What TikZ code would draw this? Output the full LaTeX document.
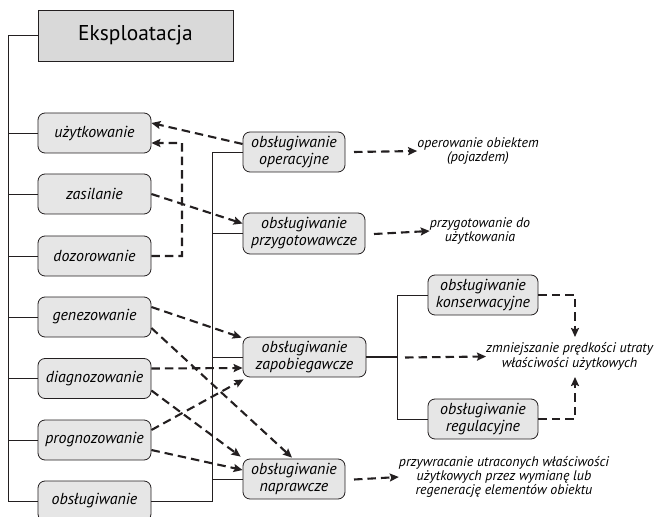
\documentclass[tikz,border=0pt]{standalone}
\usepackage{fontspec}
\setmainfont{PT Sans}
\usetikzlibrary{arrows.meta}
\definecolor{boxfill}{HTML}{E6E6E6}
\definecolor{headfill}{HTML}{D9D9D9}
\definecolor{linec}{HTML}{231F20}
\tikzset{
  headbox/.style={draw=linec, line width=0.8bp, fill=headfill, minimum width=195bp, minimum height=51bp, inner sep=0pt, font=\fontsize{21.5}{24}\selectfont},
  actbox/.style={draw=linec, line width=0.8bp, fill=boxfill, rounded corners=7bp, minimum height=40bp, inner sep=0pt, align=center, font=\fontsize{16}{17}\selectfont\itshape},
  desc/.style={align=center, inner sep=0pt, font=\fontsize{14}{14.5}\selectfont\itshape},
  tree/.style={draw=linec, line width=0.8bp},
  dasharrow/.style={draw=linec, line width=2.1bp, dash pattern=on 8.5bp off 5bp, -{Stealth[length=9bp,width=8bp,inset=1.5bp]}},
}
\begin{document}
\begin{tikzpicture}[x=1bp,y=-1bp]
\useasboundingbox (0,0) rectangle (660,517);
% head
\node[headbox] (eks) at (135.5,35.5) {Eksploatacja};
% left column
\node[actbox, minimum width=113bp] (uzyt) at (94.5,133) {użytkowanie};
\node[actbox, minimum width=113bp] (zasil) at (94.5,194) {zasilanie};
\node[actbox, minimum width=113bp] (dozor) at (94.5,256) {dozorowanie};
\node[actbox, minimum width=113bp] (genez) at (94.5,317) {genezowanie};
\node[actbox, minimum width=113bp] (diagn) at (94.5,378.5) {diagnozowanie};
\node[actbox, minimum width=113bp] (progn) at (94.5,440) {prognozowanie};
\node[actbox, minimum width=113bp] (obslu) at (94.5,501) {obsługiwanie};
% middle column
\node[actbox, minimum width=102bp] (oper) at (294,152) {obsługiwanie\\operacyjne};
\node[actbox, minimum width=122bp, minimum height=41bp] (przyg) at (304,233.5) {obsługiwanie\\przygotowawcze};
\node[actbox, minimum width=123bp] (zapob) at (304.5,357) {obsługiwanie\\zapobiegawcze};
\node[actbox, minimum width=102bp] (napr) at (294,479) {obsługiwanie\\naprawcze};
% right column
\node[actbox, minimum width=110bp] (konse) at (483,295) {obsługiwanie\\konserwacyjne};
\node[actbox, minimum width=110bp] (regul) at (483,419) {obsługiwanie\\regulacyjne};
% descriptions
\node[desc] (t1) at (478,151) {operowanie obiektem\\(pojazdem)};
\node[desc] (t2) at (480,231) {przygotowanie do\\użytkowania};
\node[desc, anchor=west] (t3) at (486,356.5) {zmniejszanie prędkości utraty\\właściwości użytkowych};
\node[desc] (t4) at (504,477) {przywracanie utraconych właściwości\\użytkowych przez wymianę lub\\regenerację elementów obiektu};
% coordinates
\coordinate (lt) at (8,35.5);
\coordinate (lb) at (8,501);
\coordinate (rt) at (212,152);
\coordinate (rb) at (212,501);
\coordinate (zj) at (397,357);
\coordinate (zt) at (397,295);
\coordinate (zb) at (397,419);
\coordinate (za) at (405,357.5);
\coordinate (dz) at (182,256);
\coordinate (dzu) at (182,143);
\coordinate (kc) at (575,295);
\coordinate (kt) at (575,337);
\coordinate (rc) at (575,419);
\coordinate (rtp) at (575,377);
\coordinate (o1) at (354,152);
\coordinate (o2) at (374,234);
\coordinate (o3) at (354,479.5);
% left tree
\draw[tree] (eks.west) -- (lt) -- (lb) -- (obslu.west);
\foreach \n in {uzyt,zasil,dozor,genez,diagn,progn}{
  \draw[tree] (lt |- \n.west) -- (\n.west);
}
% right tree
\draw[tree] (obslu.east) -- (rb) -- (rt) -- (oper.west);
\foreach \n in {przyg,zapob,napr}{
  \draw[tree] (rt |- \n.west) -- (\n.west);
}
% zapobiegawcze branch
\draw[draw=linec, line width=1.4bp] (zapob.east) -- (zj);
\draw[tree] (konse.west) -- (zt) -- (zb) -- (regul.west);
% dashed arrows right
\draw[dasharrow] (za) -- (t3.west);
\draw[dasharrow] (konse.east) -- (kc) -- (kt);
\draw[dasharrow] (regul.east) -- (rc) -- (rtp);
\draw[dasharrow] (o1) -- (t1.west);
\draw[dasharrow] (o2) -- (t2.west);
\draw[dasharrow] (o3) -- (t4.west);
% dashed arrows left
\draw[dasharrow] ([yshift=8bp]oper.west) -- ([yshift=10bp]uzyt.east);
\draw[dasharrow] (dozor.east) -- (dz) -- (dzu) -- ([yshift=-10bp]uzyt.east);
\draw[dasharrow] (zasil.east) -- ([yshift=10bp]przyg.west);
\draw[dasharrow] ([yshift=10bp]genez.east) -- ([xshift=-1bp,yshift=-1bp]zapob.north west);
\draw[dasharrow] ([yshift=-11bp]genez.east) -- ([xshift=-2bp,yshift=1bp]napr.north);
\draw[dasharrow] ([yshift=10bp]diagn.east) -- ([yshift=-11bp]zapob.west);
\draw[dasharrow] ([yshift=-12bp]diagn.east) -- ([xshift=-2bp,yshift=2bp]napr.north west);
\draw[dasharrow] ([yshift=10bp]progn.east) -- ([xshift=1bp,yshift=-2bp]zapob.south west);
\draw[dasharrow] ([yshift=-10bp]progn.east) -- ([yshift=9bp]napr.west);
\end{tikzpicture}
\end{document}
